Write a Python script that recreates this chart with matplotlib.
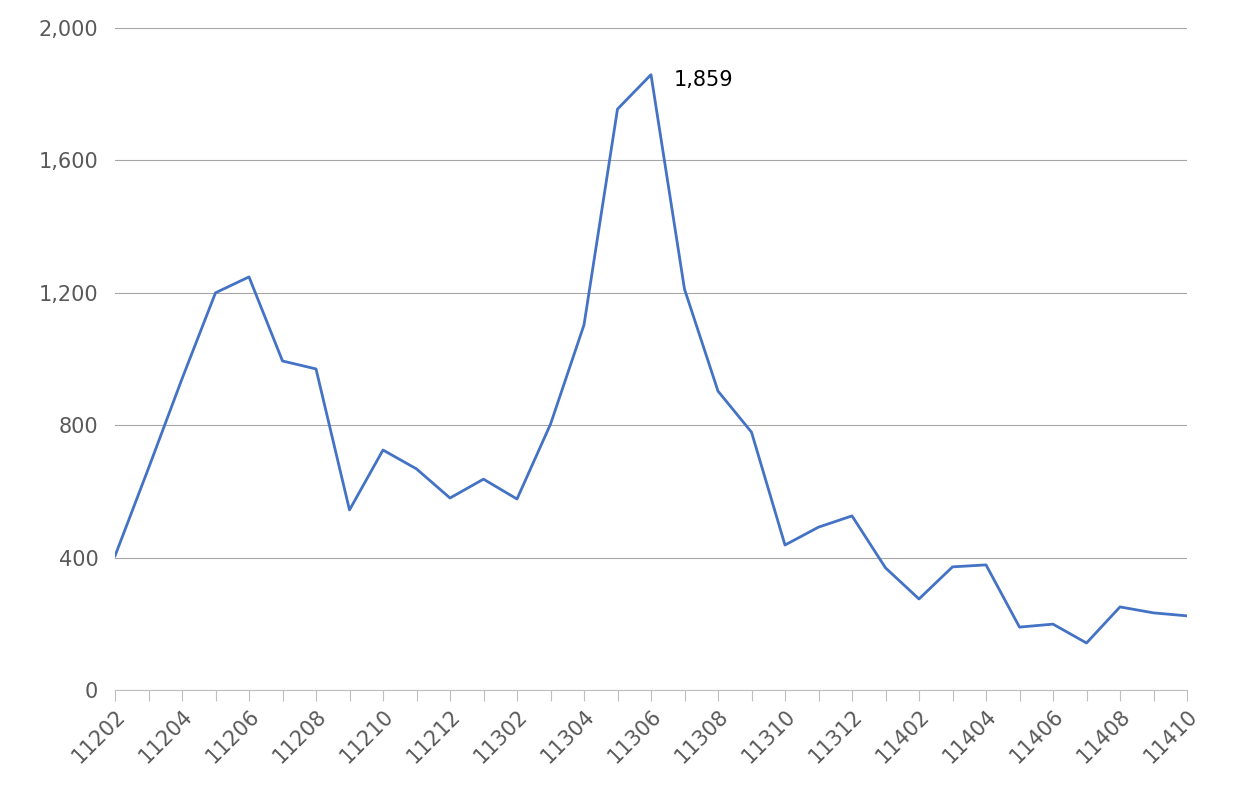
import matplotlib
matplotlib.use("Agg")
import matplotlib.pyplot as plt

months = ["11202","11203","11204","11205","11206","11207","11208","11209","11210","11211","11212",
          "11301","11302","11303","11304","11305","11306","11307","11308","11309","11310","11311","11312",
          "11401","11402","11403","11404","11405","11406","11407","11408","11409","11410"]
values = [405,670,940,1200,1248,994,970,544,725,668,580,
          637,577,803,1103,1755,1859,1211,903,779,438,492,526,
          369,275,372,378,190,199,142,251,233,224]

fig = plt.figure(figsize=(12.36,7.94), dpi=100)
ax = fig.add_axes([115/1236, 1-690/794, (1187-115)/1236, (690-28)/794])
x = list(range(len(months)))
ax.plot(x, values, color="#4472C4", lw=2)
ax.set_xlim(0, len(months)-1)
ax.set_ylim(0, 2000)
ax.set_yticks(range(0,2001,400))
ax.set_yticklabels([f"{v:,}" for v in range(0,2001,400)], fontsize=15, color="#595959")
ax.set_xticks(x)
ax.set_xticklabels([m if i%2==0 else "" for i,m in enumerate(months)], rotation=45, ha="right",
                   rotation_mode="anchor", fontsize=15, color="#595959")
ax.tick_params(axis="y", length=0, pad=12)
ax.tick_params(axis="x", length=8, color="#BFBFBF", direction="out")
ax.grid(axis="y", color="#A6A6A6", lw=0.8)
for s in ["top","right","left"]:
    ax.spines[s].set_visible(False)
ax.spines["bottom"].set_color("#BFBFBF")
i = values.index(max(values))
ax.annotate(f"{values[i]:,}", (x[i], values[i]), xytext=(16,-4), textcoords="offset points",
            fontsize=15, va="center")
fig.savefig("out.png", dpi=100)
